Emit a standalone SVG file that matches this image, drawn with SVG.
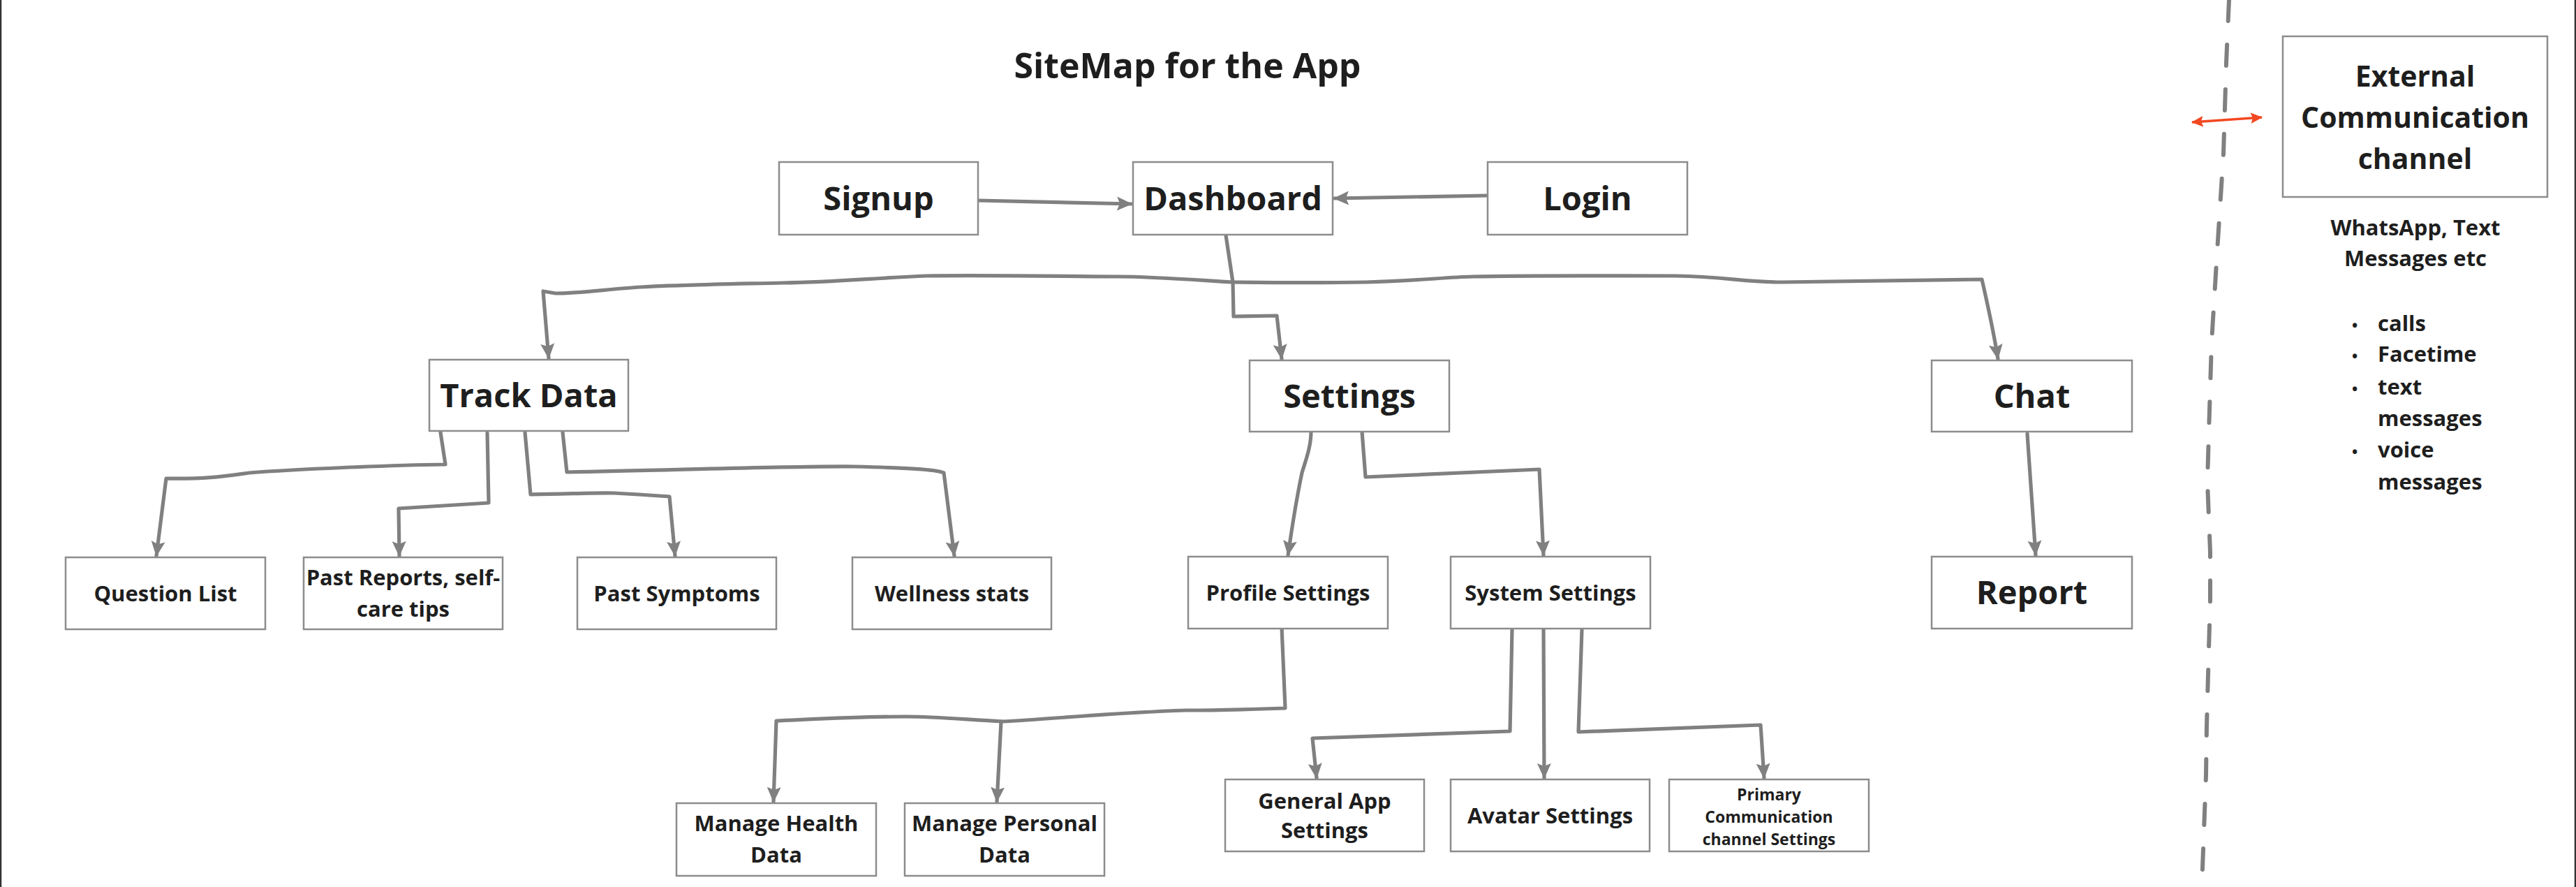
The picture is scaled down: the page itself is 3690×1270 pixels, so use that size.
<svg xmlns="http://www.w3.org/2000/svg" width="3690" height="1270" viewBox="0 0 3690 1270">
<style>
.box{fill:#ffffff;stroke:#8c8c8c;stroke-width:2.5}
.t{font-family:"Open Sans","Liberation Sans",sans-serif;font-weight:700;fill:#1e1e1e;text-anchor:middle}
.big{font-size:47px}
.sm{font-size:31px}
.xs{font-size:23px}
.ext{font-size:41px}
.side{font-size:31px}
.c{fill:none;stroke:#808080;stroke-width:5.2;stroke-linejoin:round;stroke-linecap:round}
</style>
<defs>
<marker id="ah" markerUnits="userSpaceOnUse" markerWidth="24" markerHeight="24" viewBox="0 0 24 24" refX="21" refY="12" orient="auto">
<path d="M0,2 L22,12 L0,22 L4,12 z" fill="#808080"/>
</marker>
<marker id="ar" markerUnits="userSpaceOnUse" markerWidth="18" markerHeight="18" viewBox="0 0 18 18" refX="16" refY="9" orient="auto-start-reverse">
<path d="M0,1 L17,9 L0,17 L3,9 z" fill="#f24822"/>
</marker>
</defs>
<rect x="0" y="0" width="3690" height="1270" fill="#ffffff"/>
<line x1="1" y1="0" x2="1" y2="1270" stroke="#333333" stroke-width="2.5"/>
<line x1="3689" y1="0" x2="3689" y2="1270" stroke="#333333" stroke-width="2.5"/>

<text class="t" x="1701" y="112" font-size="50">SiteMap for the App</text>

<g id="connectors">
<path class="c" marker-end="url(#ah)" d="M1401,287 L1621,292"/>
<path class="c" marker-end="url(#ah)" d="M2131,280 L1911,284"/>
<path class="c" marker-end="url(#ah)" d="M1756,337 L1766,404 L1767,453 L1829,452 L1836,514"/>
<path class="c" marker-end="url(#ah)" d="M1766,404 C1700,400 1650,396 1600,396 C1480,395 1400,394 1327,395 C1250,398 1200,404 1122,405 C1030,407 960,408 918,411 C870,414 830,420 796,420 L778,417 L786,513"/>
<path class="c" marker-end="url(#ah)" d="M1766,404 C1850,405 1900,405 1957,404 C2030,402 2070,397 2110,396 C2200,394 2300,395 2400,395 C2470,396 2500,404 2553,404 L2839,400 C2848,440 2855,470 2862,514"/>
<path class="c" marker-end="url(#ah)" d="M631,619 L638,665 C560,666 420,672 357,677 C320,682 296,686 238,685 L224,796"/>
<path class="c" marker-end="url(#ah)" d="M698,620 L700,720 L571,728 L572,796"/>
<path class="c" marker-end="url(#ah)" d="M752,619 L760,708 C820,707 860,705 880,706 C920,708 945,710 959,711 L967,796"/>
<path class="c" marker-end="url(#ah)" d="M806,619 L812,676 C1000,672 1150,667 1224,668 C1300,670 1340,672 1352,677 L1367,796"/>
<path class="c" marker-end="url(#ah)" d="M1878,618 C1878,640 1870,660 1865,677 C1858,710 1850,760 1845,795"/>
<path class="c" marker-end="url(#ah)" d="M1951,618 L1956,683 L2205,672 L2211,795"/>
<path class="c" marker-end="url(#ah)" d="M2904,621 C2908,680 2912,740 2916,795"/>
<path class="c" marker-end="url(#ah)" d="M1836,898 L1841,1014 C1780,1016 1720,1017 1700,1017 C1600,1020 1500,1030 1436,1033 C1380,1030 1340,1026 1298,1026 C1230,1026 1160,1030 1112,1032 L1108,1148"/>
<path class="c" marker-end="url(#ah)" d="M1434,1033 L1428,1148"/>
<path class="c" marker-end="url(#ah)" d="M2166,901 L2163,1047 L1880,1057 L1886,1114"/>
<path class="c" marker-end="url(#ah)" d="M2211,899 L2212,1114"/>
<path class="c" marker-end="url(#ah)" d="M2266,901 L2261,1048 L2522,1038 L2527,1114"/>
<path d="M3193,0 L3189,90 L3185,220 L3176,360 L3168,490 L3164,620 L3162,690 L3166,790 L3166,860 L3164,930 L3161,1040 L3160,1110 L3154,1270" fill="none" stroke="#808080" stroke-width="6" stroke-dasharray="30 34" stroke-linecap="round"/>
<path d="M3140,175 L3240,168" fill="none" stroke="#f24822" stroke-width="3.5" marker-start="url(#ar)" marker-end="url(#ar)"/>
</g>

<g id="signup"><rect class="box" x="1116" y="232" width="285" height="104"/><text class="t big" x="1258.5" y="301">Signup</text></g>
<g id="dashboard"><rect class="box" x="1623" y="232" width="286" height="104"/><text class="t big" x="1766" y="301">Dashboard</text></g>
<g id="login"><rect class="box" x="2131" y="232" width="286" height="104"/><text class="t big" x="2274" y="301">Login</text></g>

<g id="track-data"><rect class="box" x="615" y="515" width="285" height="102"/><text class="t big" x="757.5" y="583">Track Data</text></g>
<g id="settings"><rect class="box" x="1790" y="516" width="286" height="102"/><text class="t big" x="1933" y="584">Settings</text></g>
<g id="chat"><rect class="box" x="2767" y="516" width="287" height="102"/><text class="t big" x="2910.5" y="584">Chat</text></g>

<g id="question-list"><rect class="box" x="94" y="798" width="286" height="103"/><text class="t sm" x="237" y="861">Question List</text></g>
<g id="past-reports"><rect class="box" x="435" y="798" width="285" height="103"/><text class="t sm" x="577.5" y="838">Past Reports, self-</text><text class="t sm" x="577.5" y="883">care tips</text></g>
<g id="past-symptoms"><rect class="box" x="827" y="798" width="285" height="103"/><text class="t sm" x="969.5" y="861">Past Symptoms</text></g>
<g id="wellness-stats"><rect class="box" x="1221" y="798" width="285" height="103"/><text class="t sm" x="1363.5" y="861">Wellness stats</text></g>

<g id="profile-settings"><rect class="box" x="1702" y="797" width="286" height="103"/><text class="t sm" x="1845" y="860">Profile Settings</text></g>
<g id="system-settings"><rect class="box" x="2078" y="797" width="286" height="103"/><text class="t sm" x="2221" y="860">System Settings</text></g>
<g id="report"><rect class="box" x="2767" y="797" width="287" height="103"/><text class="t big" x="2910.5" y="865">Report</text></g>

<g id="manage-health"><rect class="box" x="969" y="1150" width="286" height="104"/><text class="t sm" x="1112" y="1190">Manage Health</text><text class="t sm" x="1112" y="1235">Data</text></g>
<g id="manage-personal"><rect class="box" x="1296" y="1150" width="286" height="104"/><text class="t sm" x="1439" y="1190">Manage Personal</text><text class="t sm" x="1439" y="1235">Data</text></g>

<g id="general-app"><rect class="box" x="1755" y="1116" width="285" height="103"/><text class="t sm" x="1897.5" y="1158">General App</text><text class="t sm" x="1897.5" y="1200">Settings</text></g>
<g id="avatar"><rect class="box" x="2078" y="1116" width="285" height="103"/><text class="t sm" x="2220.5" y="1179">Avatar Settings</text></g>
<g id="primary-comm"><rect class="box" x="2391" y="1116" width="286" height="103"/><text class="t xs" x="2534" y="1146">Primary</text><text class="t xs" x="2534" y="1178">Communication</text><text class="t xs" x="2534" y="1210">channel Settings</text></g>

<g id="external">
<rect class="box" x="3270" y="52" width="379" height="230"/>
<text class="t ext" x="3459.5" y="124">External</text>
<text class="t ext" x="3459.5" y="183">Communication</text>
<text class="t ext" x="3459.5" y="242">channel</text>
<text class="t side" x="3460" y="337">WhatsApp, Text</text>
<text class="t side" x="3460" y="381">Messages etc</text>
<g font-family="Open Sans, Liberation Sans, sans-serif" font-weight="700" fill="#1e1e1e">
<text x="3369" y="474" font-size="22">•</text><text x="3406" y="474" font-size="31">calls</text>
<text x="3369" y="518" font-size="22">•</text><text x="3406" y="518" font-size="31">Facetime</text>
<text x="3369" y="565" font-size="22">•</text><text x="3406" y="565" font-size="31">text</text>
<text x="3406" y="610" font-size="31">messages</text>
<text x="3369" y="655" font-size="22">•</text><text x="3406" y="655" font-size="31">voice</text>
<text x="3406" y="701" font-size="31">messages</text>
</g>
</g>
</svg>
